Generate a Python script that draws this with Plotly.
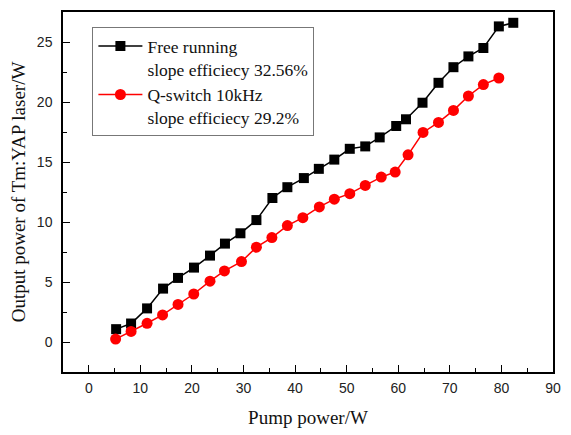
import plotly.graph_objects as go

# Free running
free_x = [5.3, 8.2, 11.3, 14.4, 17.3, 20.4, 23.5, 26.4, 29.4, 32.5, 35.6, 38.5, 41.7, 44.6,
          47.6, 50.6, 53.6, 56.4, 59.6, 61.5, 64.7, 67.8, 70.7, 73.6, 76.5, 79.5, 82.3]
free_y = [1.07, 1.54, 2.8, 4.45, 5.34, 6.2, 7.2, 8.2, 9.06, 10.16, 12.0, 12.9, 13.66, 14.43,
          15.2, 16.1, 16.3, 17.05, 18.0, 18.56, 19.94, 21.6, 22.9, 23.8, 24.5, 26.3, 26.6]
# Q-switch 10 kHz
q_x = [5.2, 8.2, 11.3, 14.3, 17.3, 20.35, 23.5, 26.3, 29.6, 32.5, 35.5, 38.5, 41.5, 44.7,
       47.6, 50.6, 53.6, 56.7, 59.4, 61.9, 64.8, 67.8, 70.7, 73.6, 76.5, 79.5]
q_y = [0.24, 0.88, 1.56, 2.26, 3.13, 4.0, 5.07, 5.92, 6.7, 7.9, 8.7, 9.7, 10.36, 11.26,
       11.9, 12.36, 13.05, 13.74, 14.16, 15.6, 17.46, 18.3, 19.3, 20.5, 21.45, 22.0]

name_free = "Free running<br>slope efficiecy 32.56%"
name_q = "Q-switch 10kHz<br>slope efficiecy 29.2%"

fig = go.Figure()
fig.add_trace(go.Scatter(x=free_x, y=free_y, mode="lines+markers", name=name_free,
                         line=dict(color="black", width=1.5),
                         marker=dict(symbol="square", size=10, color="black")))
fig.add_trace(go.Scatter(x=q_x, y=q_y, mode="lines+markers", name=name_q,
                         line=dict(color="red", width=1.5),
                         marker=dict(symbol="circle", size=11, color="red")))

axis_common = dict(showline=True, linecolor="black", linewidth=1.5, mirror=True,
                   ticks="inside", ticklen=7, tickwidth=1, tickcolor="black",
                   showgrid=False, zeroline=False,
                   tickfont=dict(family="Liberation Sans, Arial", size=14, color="#222"))

fig.update_xaxes(range=[-5, 90], tickvals=list(range(0, 91, 10)),
                 minor=dict(ticks="inside", ticklen=4, tickwidth=1, tickcolor="black", dtick=5, tick0=0),
                 title=dict(text="Pump power/W", font=dict(family="Liberation Serif", size=19, color="#111"), standoff=16),
                 ticklabelstandoff=2,
                 **axis_common)
fig.update_yaxes(range=[-2.5, 27.5], tickvals=list(range(0, 26, 5)),
                 minor=dict(ticks="inside", ticklen=4, tickwidth=1, tickcolor="black", dtick=2.5, tick0=0),
                 title=dict(text="Output power of Tm:YAP laser/W", font=dict(family="Liberation Serif", size=19, color="#111"), standoff=6),
                 ticklabelstandoff=6,
                 **axis_common)

fig.update_layout(
    width=571, height=435,
    margin=dict(l=63, r=10, t=12, b=60),
    paper_bgcolor="white", plot_bgcolor="white",
    showlegend=True,
    legend=dict(x=0.06, y=0.958, xanchor="left", yanchor="top",
                bgcolor="white", bordercolor="#777", borderwidth=1,
                font=dict(family="Liberation Serif", size=17.5, color="#111"),
                valign="top", tracegroupgap=0, itemwidth=44),
)

fig.write_html("out.html")
